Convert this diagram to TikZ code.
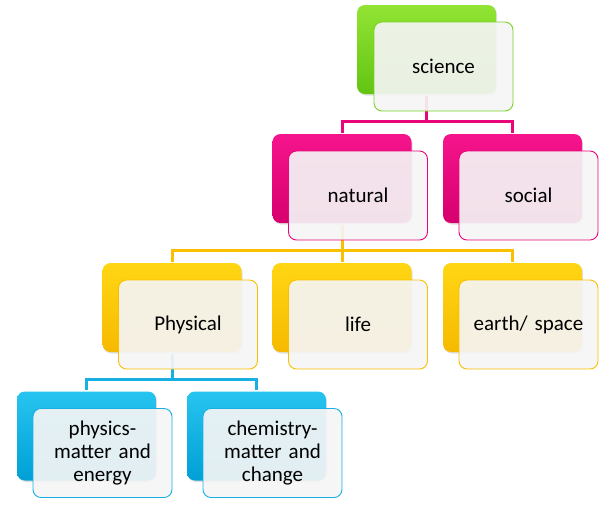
\documentclass[tikz,border=0pt]{standalone}
\usepackage{fontspec}
\setmainfont{Carlito}
\usetikzlibrary{positioning,shadows}

\definecolor{greentop}{RGB}{146,228,52}
\definecolor{greenbot}{RGB}{98,196,18}
\definecolor{pinktop}{RGB}{246,20,140}
\definecolor{pinkbot}{RGB}{214,0,110}
\definecolor{yellowtop}{RGB}{255,214,20}
\definecolor{yellowbot}{RGB}{246,186,0}
\definecolor{bluetop}{RGB}{40,196,240}
\definecolor{bluebot}{RGB}{0,160,214}
\definecolor{greenline}{RGB}{120,210,40}
\definecolor{pinkline}{RGB}{232,6,122}
\definecolor{yellowline}{RGB}{250,192,0}
\definecolor{blueline}{RGB}{24,176,226}
\definecolor{paper}{RGB}{245,245,245}

\begin{document}
\begin{tikzpicture}[x=1pt,y=-1pt,line width=3pt,
    back/.style 2 args={rounded corners=8pt,minimum width=139pt,minimum height=89pt,
      inner sep=0pt,top color=#1,bottom color=#2,
      drop shadow={shadow xshift=1pt,shadow yshift=-1.5pt,opacity=0.25}},
    front/.style={draw=#1,line width=0.9pt,rounded corners=8pt,fill=paper,
      fill opacity=0.92,text opacity=1,minimum width=139pt,minimum height=89pt,
      text width=124pt,align=center,inner sep=0pt,
      font=\fontsize{21}{23}\selectfont},
    link/.style={draw=#1,line width=3pt}]

  \useasboundingbox (0,0) rectangle (615,507);

  % The coloured boxes behind
  \node[back={greentop}{greenbot}] (sci) at (426.5,49.5) {};
  \node[back={pinktop}{pinkbot}] (nat) at (342,178.5) {};
  \node[back={pinktop}{pinkbot}] (soc) at (512.5,178.5) {};
  \node[back={yellowtop}{yellowbot}] (phy) at (172,307.5) {};
  \node[back={yellowtop}{yellowbot}] (lif) at (342,307.5) {};
  \node[back={yellowtop}{yellowbot}] (ear) at (512.5,307.5) {};
  \node[back={bluetop}{bluebot}] (phs) at (86.5,436) {};
  \node[back={bluetop}{bluebot}] (che) at (256.5,436) {};

  % Connectors between the levels
  \draw[link=pinkline] (nat.north) -- ++(0,-11) -| (sci.south);
  \draw[link=pinkline] (soc.north) -- ++(0,-11) -| (sci.south);
  \draw[link=yellowline] (phy.north) -- ++(0,-11) -| (nat.south);
  \draw[link=yellowline] (lif.north) -- ++(0,-11) -| (nat.south);
  \draw[link=yellowline] (ear.north) -- ++(0,-11) -| (nat.south);
  \draw[link=blueline] (phs.north) -- ++(0,-11) -| (phy.south);
  \draw[link=blueline] (che.north) -- ++(0,-11) -| (phy.south);

  % The light boxes in front, with the texts
  \node[front=greenline] (scitext) at ([shift={(17,17)}]sci.center) {science};
  \node[front=pinkline] (nattext) at ([shift={(16,17)}]nat.center) {natural};
  \node[front=pinkline] (soctext) at ([shift={(16,17)}]soc.center) {social};
  \node[front=yellowline] (phytext) at ([shift={(16,17)}]phy.center) {Physical};
  \node[front=yellowline] (liftext) at ([shift={(16,17)}]lif.center) {life};
  \node[front=yellowline] (eartext) at ([shift={(16,17)}]ear.center) {earth/ space};
  \node[front=blueline] (phstext) at ([shift={(16,17)}]phs.center) {physics-\\matter and\\energy};
  \node[front=blueline] (chetext) at ([shift={(16,17)}]che.center) {chemistry-\\matter and\\change};

\end{tikzpicture}
\end{document}
